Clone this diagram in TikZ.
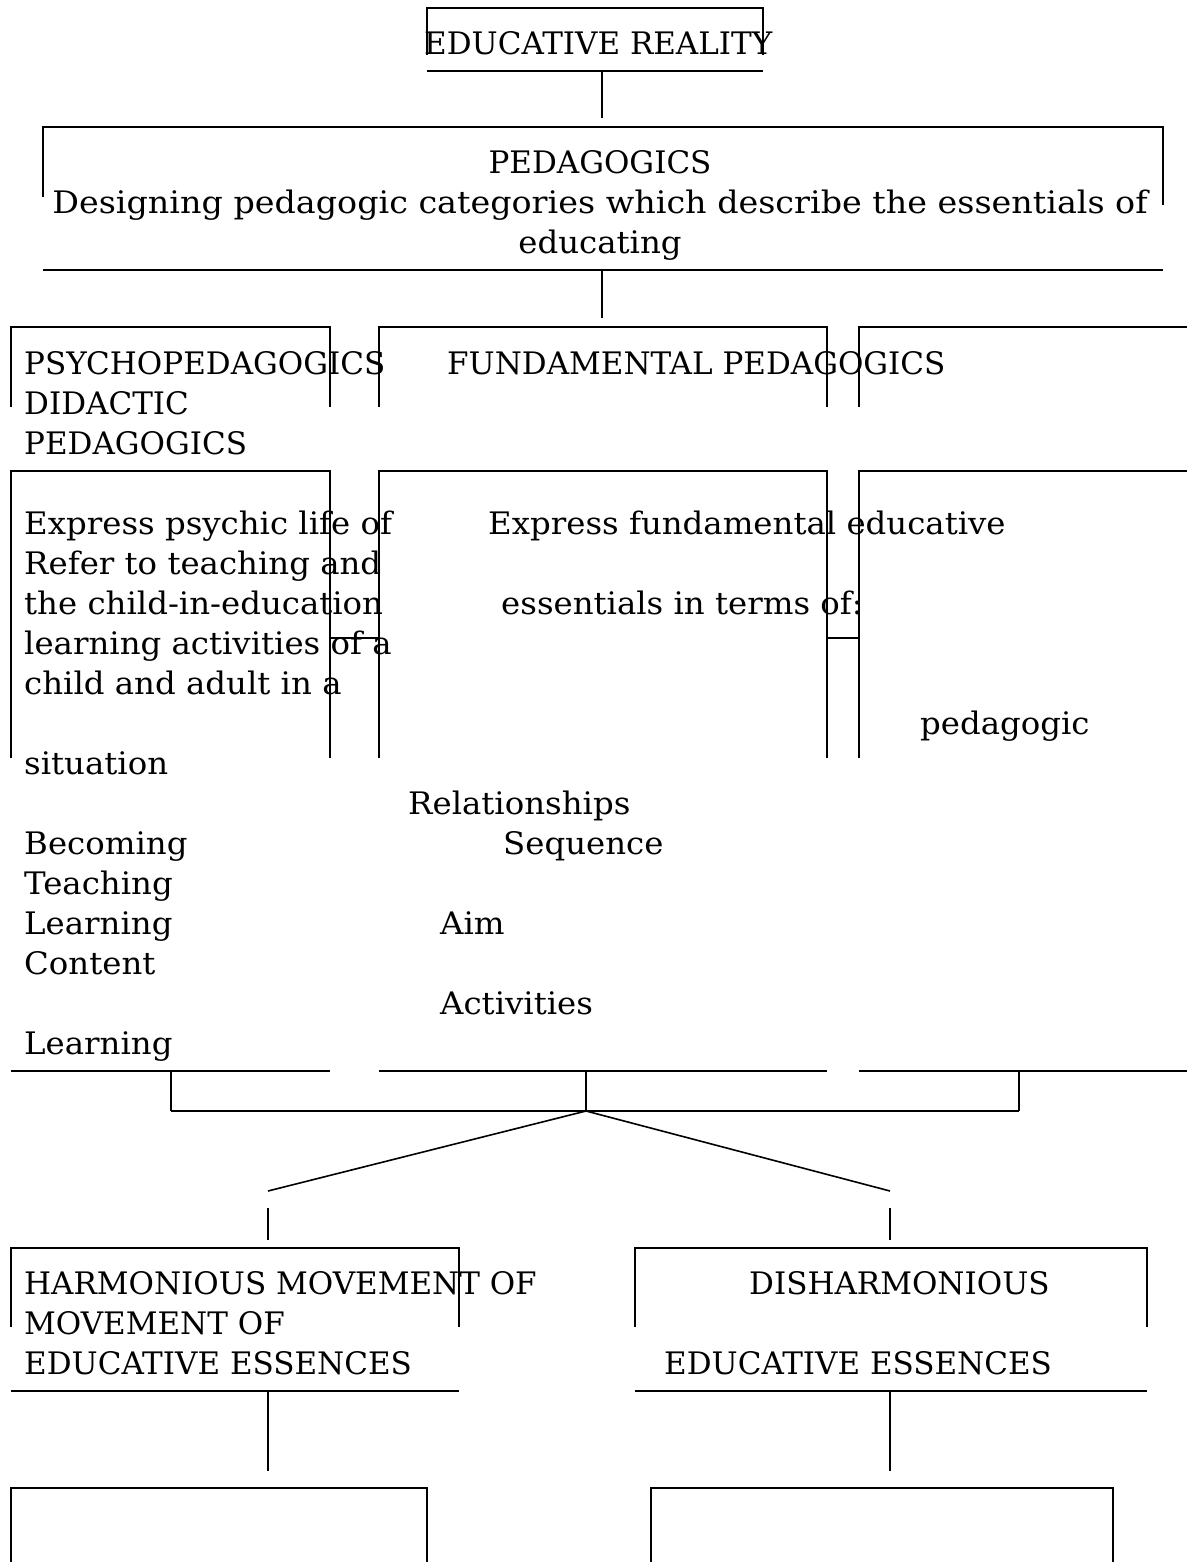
\documentclass[tikz,border=0pt]{standalone}
\usepackage{fontspec}
\setmainfont{DejaVu Serif}
\newfontfamily\lcfont[FakeStretch=1.045]{DejaVu Serif}
\newfontfamily\desfont[FakeStretch=1.076]{DejaVu Serif}
\begin{document}
\begin{tikzpicture}[x=1pt,y=-1pt,
  ln/.style={line width=1.6pt},
  txt/.style={anchor=base west, inner sep=0pt, font=\fontsize{31}{40}\selectfont},
  ltxt/.style={anchor=base west, inner sep=0pt, font=\fontsize{31}{40}\lcfont},
  ctxt/.style={anchor=base, inner sep=0pt, font=\fontsize{31}{40}\selectfont}]
\useasboundingbox (0,0) rectangle (1187,1562);
% ---------- box frames ----------
% EDUCATIVE REALITY
\draw[ln] (427,55) -- (427,8) -- (763,8) -- (763,55);
\draw[ln] (427,71) -- (763,71);
% PEDAGOGICS
\draw[ln] (43,197) -- (43,127) -- (1163,127) -- (1163,205);
\draw[ln] (43,270) -- (1163,270);
% row 3 headers
\draw[ln] (11,407) -- (11,327) -- (330,327) -- (330,407);
\draw[ln] (379,407) -- (379,327) -- (827,327) -- (827,407);
\draw[ln] (859,407) -- (859,327) -- (1187,327);
% row 4
\draw[ln] (11,758) -- (11,471) -- (330,471) -- (330,758);
\draw[ln] (379,758) -- (379,471) -- (827,471) -- (827,758);
\draw[ln] (859,758) -- (859,471) -- (1187,471);
\draw[ln] (330,638) -- (379,638);
\draw[ln] (827,638) -- (859,638);
\draw[ln] (11,1071) -- (330,1071);
\draw[ln] (379,1071) -- (827,1071);
\draw[ln] (859,1071) -- (1187,1071);
% row 5
\draw[ln] (11,1327) -- (11,1248) -- (459,1248) -- (459,1327);
\draw[ln] (11,1391) -- (459,1391);
\draw[ln] (635,1327) -- (635,1248) -- (1147,1248) -- (1147,1327);
\draw[ln] (635,1391) -- (1147,1391);
% row 6
\draw[ln] (11,1562) -- (11,1488) -- (427,1488) -- (427,1562);
\draw[ln] (651,1562) -- (651,1488) -- (1113,1488) -- (1113,1562);
% ---------- texts ----------
\node[txt] (er) at (424,55) {EDUCATIVE REALITY};
\node[ctxt] (ped) at (600,174) {PEDAGOGICS};
\node[ctxt, font=\fontsize{31}{40}\desfont] (des) at (600,214) {Designing pedagogic categories which describe the essentials of};
\node[ctxt, font=\fontsize{31}{40}\lcfont] (edu) at (600,254) {educating};
\node[txt] (psy) at (24,374) {PSYCHOPEDAGOGICS};
\node[txt] (did) at (24,414) {DIDACTIC};
\node[txt] (dped) at (24,454) {PEDAGOGICS};
\node[txt] (fund) at (447,374) {FUNDAMENTAL PEDAGOGICS};
\node[ltxt] (l1) at (24,534) {Express psychic life of};
\node[ltxt] (l2) at (24,574) {Refer to teaching and};
\node[ltxt] (l3) at (24,614) {the child-in-education};
\node[ltxt] (l4) at (24,654) {learning activities of a};
\node[ltxt] (l5) at (24,694) {child and adult in a};
\node[ltxt] (l6) at (24,774) {situation};
\node[ltxt] (l7) at (24,854) {Becoming};
\node[ltxt] (l8) at (24,894) {Teaching};
\node[ltxt] (l9) at (24,934) {Learning};
\node[ltxt] (l10) at (24,974) {Content};
\node[ltxt] (l11) at (24,1054) {Learning};
\node[ltxt] (m1) at (488,534) {Express fundamental educative};
\node[ltxt] (m2) at (501,614) {essentials in terms of:};
\node[ltxt] (m3) at (408,814) {Relationships};
\node[ltxt] (m4) at (503,854) {Sequence};
\node[ltxt] (m5) at (440,934) {Aim};
\node[ltxt] (m6) at (440,1014) {Activities};
\node[ltxt] (r1) at (920,734) {pedagogic};
\node[txt] (h1) at (24,1294) {HARMONIOUS MOVEMENT OF};
\node[txt] (h2) at (24,1334) {MOVEMENT OF};
\node[txt] (h3) at (24,1374) {EDUCATIVE ESSENCES};
\node[txt] (d1) at (749,1294) {DISHARMONIOUS};
\node[txt] (d2) at (664,1374) {EDUCATIVE ESSENCES};
% ---------- connectors ----------
\coordinate (c1a) at (602,71);  \coordinate (c1b) at (602,118);
\coordinate (c2a) at (602,270); \coordinate (c2b) at (602,318);
\coordinate (la) at (171,1071); \coordinate (lb) at (171,1111);
\coordinate (ma) at (586,1071); \coordinate (mb) at (586,1111);
\coordinate (ra) at (1019,1071); \coordinate (rb) at (1019,1111);
\coordinate (dl) at (268,1191); \coordinate (dr) at (890,1191);
\coordinate (vl1) at (268,1208); \coordinate (vl2) at (268,1240);
\coordinate (vr1) at (890,1208); \coordinate (vr2) at (890,1240);
\coordinate (bl1) at (268,1391); \coordinate (bl2) at (268,1471);
\coordinate (br1) at (890,1391); \coordinate (br2) at (890,1471);
\draw[ln] (c1a) -- (c1b);
\draw[ln] (c2a) -- (c2b);
\draw[ln] (la) -- (lb);
\draw[ln] (ma) -- (mb);
\draw[ln] (ra) -- (rb);
\draw[ln] (lb) -- (rb);
\draw[ln] (mb) -- (dl);
\draw[ln] (mb) -- (dr);
\draw[ln] (vl1) -- (vl2);
\draw[ln] (vr1) -- (vr2);
\draw[ln] (bl1) -- (bl2);
\draw[ln] (br1) -- (br2);
\end{tikzpicture}
\end{document}
